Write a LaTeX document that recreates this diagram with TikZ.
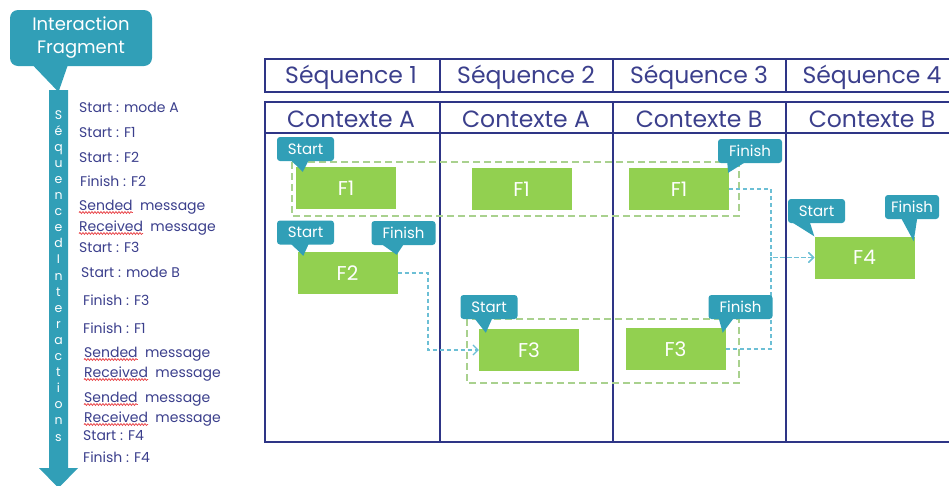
\documentclass[tikz,border=0pt]{standalone}
\usepackage{fontspec}
\setmainfont{Poppins}
\usetikzlibrary{arrows.meta,decorations.pathmorphing}
\definecolor{navy}{HTML}{2E3586}
\definecolor{ink}{HTML}{3B3F8C}
\definecolor{tealc}{HTML}{319FB7}
\definecolor{leaf}{HTML}{92D050}
\definecolor{leafdash}{HTML}{A9D18E}
\definecolor{skydash}{HTML}{6CBFD5}
\definecolor{typo}{HTML}{E8454A}
\newcommand\listfont{\fontsize{14}{16}\selectfont}
\begin{document}
\begin{tikzpicture}[x=1pt,y=-1pt,
    tableline/.style={draw=navy,line width=2.6pt},
    head/.style={text=ink,anchor=base,font=\fontsize{23.5}{24}\selectfont},
    item/.style={text=ink,anchor=base west,inner sep=0pt,font=\listfont},
    frag/.style={fill=leaf,text=white,minimum width=100pt,minimum height=42pt,inner sep=0pt,font=\fontsize{20}{20}\selectfont},
    tag/.style={fill=tealc,text=white,rounded corners=3pt,minimum width=57pt,minimum height=24pt,inner sep=0pt,font=\fontsize{15}{15}\selectfont},
    group/.style={draw=leafdash,line width=1.3pt,dash pattern=on 7pt off 4pt},
    link/.style={draw=skydash,line width=1.2pt,dash pattern=on 4pt off 3pt,-{Straight Barb[length=5pt,width=10pt]}},
    squig/.style={draw=typo,line width=0.8pt,decorate,decoration={snake,amplitude=0.9pt,segment length=3pt}}]
\useasboundingbox (0,0) rectangle (949,485);

\node[tag,minimum width=142pt,minimum height=56pt,rounded corners=8pt,align=center,font=\fontsize{18}{23}\selectfont] (frg) at (81,38) {Interaction\\Fragment};
\coordinate (top) at (58.5,92);
\fill[tealc] ([xshift=23pt,yshift=1pt]frg.south west) -- (top) -- ([xshift=58pt,yshift=1pt]frg.south west) -- cycle;
\fill[tealc] (49,90) -- (68,90) -- (68,468) -- (78,468) -- (58.5,488) -- (39,468) -- (49,468) -- cycle;
\foreach \c [count=\i from 0] in {S,é,q,u,e,n,c,e,d,I,n,t,e,r,a,c,t,i,o,n,s}
  \node[text=white,anchor=base,inner sep=0pt,font=\fontsize{12.5}{12.5}\selectfont] (v\i) at (58.5,{119+16.1*\i}) {\c};

\foreach \n/\x/\y/\t in {1/79/112/Start : mode A, 2/79/137/Start : F1, 3/79/162/Start : F2, 4/80/186/Finish : F2,
    7/79/252/Start : F3, 8/81/277/Start : mode B, 9/83/305/Finish : F3, 10/83/333/Finish : F1,
    15/83/440/Start : F4, 16/83/462/Finish : F4}
  \node[item] (m\n) at (\x,\y) {\t};
\foreach \n/\x/\y/\w in {5/79/210/Sended, 6/79/231/Received, 11/84/357/Sended, 12/84/377/Received,
    13/84/402/Sended, 14/84/422/Received} {
  \node[item] (m\n) at (\x,\y) {\w};
  \node[item] at ([xshift=7pt]m\n.base east) {message};
  \draw[squig] ([yshift=-2.5pt]m\n.base west) -- ([yshift=-2.5pt]m\n.base east);
}

\draw[tableline] (949,59) -- (265,59) -- (265,92) -- (949,92);
\draw[tableline] (949,102) -- (265,102) -- (265,442) -- (949,442);
\draw[tableline] (265,133) -- (949,133);
\foreach \x in {440,613,786} {
  \draw[tableline] (\x,59) -- (\x,92);
  \draw[tableline] (\x,102) -- (\x,442);
}
\foreach \x/\n in {351/1,526/2,699/3,872/4}
  \node[head] (q\n) at (\x,83) {Séquence \n};
\foreach \x/\c [count=\n] in {351/A,526/A,699/B,872/B}
  \node[head] (k\n) at (\x,127) {Contexte \c};

\draw[group] (292,162) rectangle (739,216);
\draw[group] (467,319) rectangle (739,383);

\node[frag] (f1a) at (346,188) {F1};
\node[frag] (f1b) at (521.5,189) {F1};
\node[frag] (f1c) at (679,189) {F1};
\node[frag] (f2) at (347.5,273) {F2};
\node[frag] (f3a) at (529,350) {F3};
\node[frag] (f3b) at (675.5,349) {F3};
\node[frag] (f4) at (864.5,257.5) {F4};

\coordinate (bend1) at (771,257.5);
\coordinate (bend2) at (428,300);
\draw[link] (f1c.east) -| (bend1) -- (f4.west);
\draw[link] (f3b.east) -| (bend1) -- (f4.west);
\draw[link] (f2.east) -| (bend2) |- (f3a.west);

\node[tag] (s1) at (305.5,149) {Start};
\node[tag] (s2) at (305.5,232.5) {Start};
\node[tag] (s3) at (489,307) {Start};
\node[tag] (s4) at (816.5,211) {Start};
\node[tag,minimum width=64pt] (e1) at (750,151) {Finish};
\node[tag,minimum width=64pt] (e2) at (403.5,233) {Finish};
\node[tag,minimum width=64pt] (e3) at (740.5,307) {Finish};
\node[tag,minimum width=54pt] (e4) at (912,207) {Finish};
\fill[tealc] ([xshift=14pt,yshift=1pt]s1.south west) -- ([xshift=7pt,yshift=-5pt]f1a.north west) -- ([xshift=32pt,yshift=1pt]s1.south west) -- cycle;
\fill[tealc] ([xshift=14pt,yshift=1pt]s2.south west) -- ([xshift=6pt,yshift=-4pt]f2.north west) -- ([xshift=32pt,yshift=1pt]s2.south west) -- cycle;
\fill[tealc] ([xshift=14pt,yshift=1pt]s3.south west) -- ([xshift=7pt,yshift=-4pt]f3a.north west) -- ([xshift=32pt,yshift=1pt]s3.south west) -- cycle;
\fill[tealc] ([xshift=4pt,yshift=1pt]s4.south west) -- (f4.north west) -- ([xshift=22pt,yshift=1pt]s4.south west) -- cycle;
\fill[tealc] ([xshift=-55pt,yshift=1pt]e1.south east) -- ([xshift=-1pt,yshift=-5pt]f1c.north east) -- ([xshift=-37pt,yshift=1pt]e1.south east) -- cycle;
\fill[tealc] ([xshift=-54pt,yshift=1pt]e2.south east) -- ([xshift=-1pt,yshift=-3pt]f2.north east) -- ([xshift=-32pt,yshift=1pt]e2.south east) -- cycle;
\fill[tealc] ([xshift=-54pt,yshift=1pt]e3.south east) -- ([xshift=-3pt,yshift=-5pt]f3b.north east) -- ([xshift=-39pt,yshift=1pt]e3.south east) -- cycle;
\fill[tealc] ([xshift=-38pt,yshift=1pt]e4.south east) -- ([xshift=-1pt,yshift=-5pt]f4.north east) -- ([xshift=-22pt,yshift=1pt]e4.south east) -- cycle;
\end{tikzpicture}
\end{document}
